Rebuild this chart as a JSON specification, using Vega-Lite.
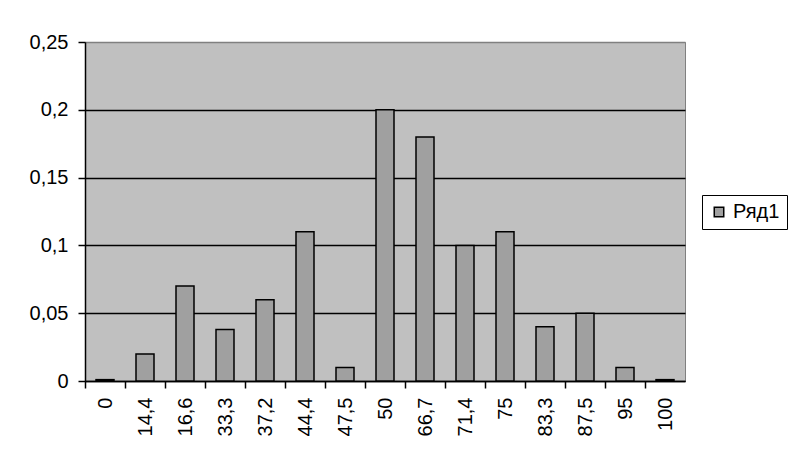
{
  "$schema": "https://vega.github.io/schema/vega-lite/v6.json",
  "width": 600,
  "height": 339,
  "autosize": "none",
  "padding": {"left": 85, "top": 42, "right": 118, "bottom": 88},
  "background": "white",
  "data": {"values": [
    {"k": "0", "v": 0.001},
    {"k": "14,4", "v": 0.02},
    {"k": "16,6", "v": 0.07},
    {"k": "33,3", "v": 0.038},
    {"k": "37,2", "v": 0.06},
    {"k": "44,4", "v": 0.11},
    {"k": "47,5", "v": 0.01},
    {"k": "50", "v": 0.2},
    {"k": "66,7", "v": 0.18},
    {"k": "71,4", "v": 0.1},
    {"k": "75", "v": 0.11},
    {"k": "83,3", "v": 0.04},
    {"k": "87,5", "v": 0.05},
    {"k": "95", "v": 0.01},
    {"k": "100", "v": 0.001}
  ]},
  "transform": [{"calculate": "'Ряд1'", "as": "series"}],
  "mark": {"type": "bar", "stroke": "black", "strokeWidth": 1.5},
  "encoding": {
    "x": {
      "field": "k", "type": "nominal", "sort": null,
      "scale": {"paddingInner": 0.55, "paddingOuter": 0.275},
      "axis": {
        "title": null, "labelAngle": -90, "labelAlign": "right", "labelBaseline": "middle",
        "labelFont": "Arial", "labelFontSize": 20, "labelColor": "black",
        "tickOffset": -20, "labelOffset": 20, "tickSize": 7, "tickColor": "black", "tickWidth": 1.5,
        "domainColor": "black", "domainWidth": 1.5, "labelPadding": 9
      }
    },
    "y": {
      "field": "v", "type": "quantitative",
      "scale": {"domain": [0, 0.25]},
      "axis": {
        "title": null, "values": [0, 0.05, 0.1, 0.15, 0.2, 0.25],
        "labelExpr": "replace(toString(datum.value), '.', ',')",
        "labelFont": "Arial", "labelFontSize": 20, "labelColor": "black",
        "grid": true,
        "gridColor": {"condition": {"test": "datum.value >= 0.25", "value": "#808080"}, "value": "black"},
        "gridWidth": 1.5,
        "tickSize": 7, "tickColor": "black", "tickWidth": 1.5, "domainColor": "black", "domainWidth": 1.5, "labelPadding": 10
      }
    },
    "color": {
      "field": "series", "type": "nominal",
      "scale": {"range": ["#A0A0A0"]},
      "legend": {
        "title": null, "orient": "none", "legendX": 617, "legendY": 153,
        "symbolType": "square", "symbolSize": 90, "symbolStrokeColor": "black", "symbolStrokeWidth": 1.5,
        "strokeColor": "black", "fillColor": "white", "padding": 7,
        "labelFontSize": 20, "labelFont": "Arial", "labelColor": "black"
      }
    }
  },
  "config": {
    "view": {"fill": "#C0C0C0", "stroke": "#808080"}
  }
}
